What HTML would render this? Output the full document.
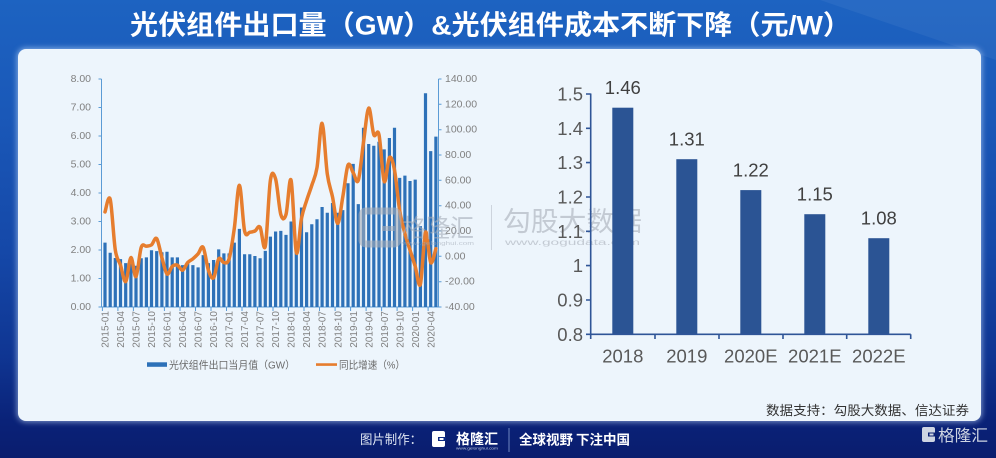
<!DOCTYPE html>
<html><head><meta charset="utf-8"><style>
html,body{margin:0;padding:0;}
body{width:996px;height:458px;overflow:hidden;position:relative;background:linear-gradient(to bottom,#1d63c1 0%,#1a58b8 25%,#1548a8 55%,#0f3592 78%,#0a2278 92%,#0a1d6e 100%);font-family:"Liberation Sans","Noto Sans CJK SC",sans-serif;}
.panel{position:absolute;left:17.5px;top:49px;width:963.5px;height:372px;background:#edf5fc;border-radius:8px;box-shadow:0 0 6px 1px rgba(200,225,255,0.6);}
svg{position:absolute;left:0;top:0;}
</style></head><body>
<div class="panel"></div>
<svg width="996" height="458" viewBox="0 0 996 458" xmlns="http://www.w3.org/2000/svg">
<polygon points="700,0 996,0 996,60 820,0" fill="#ffffff" opacity="0.05"/>
<!-- Title -->
<text x="130" y="34.5" textLength="721" lengthAdjust="spacingAndGlyphs" font-family="'Liberation Sans','Noto Sans CJK SC',sans-serif" font-size="27" font-weight="bold" fill="#ffffff">光伏组件出口量（GW）&amp;光伏组件成本不断下降（元/W）</text>

<!-- Left chart axes -->
<g stroke="#5b9bd5" stroke-width="1" fill="none">
<line x1="101.5" y1="79" x2="101.5" y2="307"/>
<line x1="438.5" y1="79" x2="438.5" y2="307"/>
<line x1="101.5" y1="307" x2="438.5" y2="307"/>
<path d="M98.5,79H101.5M98.5,107.5H101.5M98.5,136H101.5M98.5,164.5H101.5M98.5,193H101.5M98.5,221.5H101.5M98.5,250H101.5M98.5,278.5H101.5M98.5,307H101.5"/>
<path d="M438.5,79H441.5M438.5,104.3H441.5M438.5,129.7H441.5M438.5,155H441.5M438.5,180.3H441.5M438.5,205.7H441.5M438.5,231H441.5M438.5,256.3H441.5M438.5,281.7H441.5M438.5,307H441.5"/>
<path d="M102.4,307V311M117.9,307V311M133.4,307V311M148.9,307V311M164.4,307V311M180,307V311M195.5,307V311M211,307V311M226.5,307V311M242,307V311M257.5,307V311M273,307V311M288.5,307V311M304,307V311M319.5,307V311M335.1,307V311M350.6,307V311M366.1,307V311M381.6,307V311M397.1,307V311M412.6,307V311M428.1,307V311"/>
</g>
<g font-family="'Liberation Sans',sans-serif" font-size="10.5" fill="#808080">
<g text-anchor="end" dominant-baseline="central">
<text x="91" y="79">8.00</text><text x="91" y="107.5">7.00</text><text x="91" y="136">6.00</text><text x="91" y="164.5">5.00</text><text x="91" y="193">4.00</text><text x="91" y="221.5">3.00</text><text x="91" y="250">2.00</text><text x="91" y="278.5">1.00</text><text x="91" y="307">0.00</text>
</g>
<g dominant-baseline="central">
<text x="445" y="79">140.00</text><text x="445" y="104.3">120.00</text><text x="445" y="129.7">100.00</text><text x="445" y="155">80.00</text><text x="445" y="180.3">60.00</text><text x="445" y="205.7">40.00</text><text x="445" y="231">20.00</text><text x="445" y="256.3">0.00</text><text x="445" y="281.7">-20.00</text><text x="445" y="307">-40.00</text>
</g>
</g>
<!-- Bars -->
<path fill="#2d71b8" d="M103.4,307V242.6h3.2V307zM108.6,307V252.8h3.2V307zM113.7,307V258h3.2V307zM118.9,307V259.1h3.2V307zM124.1,307V263.1h3.2V307zM129.3,307V263.7h3.2V307zM134.4,307V265.7h3.2V307zM139.6,307V258.3h3.2V307zM144.8,307V257.4h3.2V307zM149.9,307V250.3h3.2V307zM155.1,307V251.1h3.2V307zM160.3,307V252.3h3.2V307zM165.4,307V251.7h3.2V307zM170.6,307V257.4h3.2V307zM175.8,307V257.4h3.2V307zM181,307V265.1h3.2V307zM186.1,307V262.5h3.2V307zM191.3,307V265.1h3.2V307zM196.5,307V267.4h3.2V307zM201.6,307V255.1h3.2V307zM206.8,307V263.1h3.2V307zM212,307V260h3.2V307zM217.1,307V249.4h3.2V307zM222.3,307V253.4h3.2V307zM227.5,307V253.4h3.2V307zM232.7,307V242.6h3.2V307zM237.8,307V228.9h3.2V307zM243,307V254.3h3.2V307zM248.2,307V254.3h3.2V307zM253.3,307V256h3.2V307zM258.5,307V258.3h3.2V307zM263.7,307V250.9h3.2V307zM268.8,307V236.6h3.2V307zM274,307V231.5h3.2V307zM279.2,307V230.9h3.2V307zM284.4,307V234.9h3.2V307zM289.5,307V221.5h3.2V307zM294.7,307V241.4h3.2V307zM299.9,307V207.5h3.2V307zM305,307V232.3h3.2V307zM310.2,307V224.3h3.2V307zM315.4,307V219.2h3.2V307zM320.5,307V207h3.2V307zM325.7,307V212.7h3.2V307zM330.9,307V203h3.2V307zM336.1,307V212.7h3.2V307zM341.2,307V210.1h3.2V307zM346.4,307V183.3h3.2V307zM351.6,307V163.9h3.2V307zM356.7,307V204.1h3.2V307zM361.9,307V127.7h3.2V307zM367.1,307V144h3.2V307zM372.2,307V145.7h3.2V307zM377.4,307V141.7h3.2V307zM382.6,307V149.4h3.2V307zM387.8,307V138h3.2V307zM392.9,307V127.7h3.2V307zM398.1,307V177.9h3.2V307zM403.3,307V175.6h3.2V307zM408.4,307V181h3.2V307zM413.6,307V179.6h3.2V307zM418.8,307V226.1h3.2V307zM423.9,307V93.2h3.2V307zM429.1,307V151.1h3.2V307zM434.3,307V136.6h3.2V307z"/>
<!-- Line -->
<path id="ln" fill="none" stroke="#e67d2e" stroke-width="3.5" stroke-linejoin="round" stroke-linecap="round" d="M105.0,211.9 L110.2,199.3 L115.3,250.0 L120.5,265.2 L125.7,281.6 L130.9,257.6 L136.0,276.6 L141.2,247.4 L146.4,246.2 L151.5,244.9 L156.7,238.6 L161.9,257.6 L167.0,274.0 L172.2,266.4 L177.4,265.2 L182.6,270.2 L187.7,262.6 L192.9,258.8 L198.1,253.8 L203.2,247.4 L208.4,270.2 L213.6,277.8 L218.7,258.8 L223.9,262.6 L229.1,258.8 L234.3,228.4 L239.4,185.3 L244.6,231.0 L249.8,232.2 L254.9,231.0 L260.1,227.2 L265.3,246.2 L270.4,180.3 L275.6,179.0 L280.8,214.5 L286.0,214.5 L291.1,180.3 L296.3,252.5 L301.5,218.3 L306.6,200.6 L311.8,185.3 L317.0,167.6 L322.1,123.3 L327.3,174.0 L332.5,196.8 L337.7,223.4 L342.8,196.8 L348.0,165.1 L353.2,172.7 L358.3,180.3 L363.5,142.3 L368.7,108.1 L373.8,134.7 L379.0,134.7 L384.2,181.5 L389.4,157.5 L394.5,170.1 L399.7,210.7 L404.9,233.5 L410.0,250.0 L415.2,266.4 L420.4,284.2 L425.5,232.2 L430.7,262.6 L435.9,248.7"/>

<!-- Watermarks (on top) -->
<g opacity="0.6">
<rect x="362" y="211" width="36" height="33" rx="4" fill="none" stroke="#a4acb8" stroke-width="7"/>
<rect x="382" y="226" width="14" height="5" fill="#a4acb8"/>
<text x="402" y="237" textLength="72" lengthAdjust="spacingAndGlyphs" font-family="'Noto Sans CJK SC',sans-serif" font-size="25" fill="#a4acb8">格隆汇</text>
<text x="402" y="245" textLength="72" lengthAdjust="spacingAndGlyphs" font-family="'Liberation Sans',sans-serif" font-size="5" fill="#a4acb8">www.gelonghui.com</text>
</g>
<g opacity="0.55">
<line x1="491.5" y1="205" x2="491.5" y2="250" stroke="#b4bac4" stroke-width="1"/>
<text x="503" y="231" textLength="139" lengthAdjust="spacingAndGlyphs" font-family="'Noto Sans CJK SC',sans-serif" font-size="27" fill="#a2a8b2">勾股大数据</text>
<text x="505" y="245" textLength="135" lengthAdjust="spacingAndGlyphs" font-family="'Liberation Sans',sans-serif" font-size="8" fill="#a2a8b2">www.gogudata.com</text>
</g>

<!-- X labels left -->
<g font-family="'Liberation Sans',sans-serif" font-size="10" fill="#808080" text-anchor="end">
<text transform="translate(108.6,311) rotate(-90)">2015-01</text>
<text transform="translate(124.1,311) rotate(-90)">2015-04</text>
<text transform="translate(139.6,311) rotate(-90)">2015-07</text>
<text transform="translate(155.1,311) rotate(-90)">2015-10</text>
<text transform="translate(170.6,311) rotate(-90)">2016-01</text>
<text transform="translate(186.2,311) rotate(-90)">2016-04</text>
<text transform="translate(201.7,311) rotate(-90)">2016-07</text>
<text transform="translate(217.2,311) rotate(-90)">2016-10</text>
<text transform="translate(232.7,311) rotate(-90)">2017-01</text>
<text transform="translate(248.2,311) rotate(-90)">2017-04</text>
<text transform="translate(263.7,311) rotate(-90)">2017-07</text>
<text transform="translate(279.2,311) rotate(-90)">2017-10</text>
<text transform="translate(294.7,311) rotate(-90)">2018-01</text>
<text transform="translate(310.2,311) rotate(-90)">2018-04</text>
<text transform="translate(325.7,311) rotate(-90)">2018-07</text>
<text transform="translate(341.3,311) rotate(-90)">2018-10</text>
<text transform="translate(356.8,311) rotate(-90)">2019-01</text>
<text transform="translate(372.3,311) rotate(-90)">2019-04</text>
<text transform="translate(387.8,311) rotate(-90)">2019-07</text>
<text transform="translate(403.3,311) rotate(-90)">2019-10</text>
<text transform="translate(418.8,311) rotate(-90)">2020-01</text>
<text transform="translate(434.3,311) rotate(-90)">2020-04</text>
</g>
<!-- Legend -->
<rect x="147" y="362.3" width="20" height="4.5" fill="#2d71b8"/>
<text x="169" y="368.3" textLength="126" lengthAdjust="spacingAndGlyphs" font-family="'Liberation Sans','Noto Sans CJK SC',sans-serif" font-size="10.5" fill="#6a6a6a">光伏组件出口当月值（GW）</text>
<line x1="316" y1="364.6" x2="337" y2="364.6" stroke="#e67d2e" stroke-width="2.6"/>
<text x="339" y="368.3" textLength="66" lengthAdjust="spacingAndGlyphs" font-family="'Liberation Sans','Noto Sans CJK SC',sans-serif" font-size="10.5" fill="#6a6a6a">同比增速（%）</text>

<!-- Right chart -->
<g fill="#2b5494">
<rect x="612.3" y="107.7" width="21" height="226.6"/>
<rect x="676.3" y="159.2" width="21" height="175.1"/>
<rect x="740.3" y="190.1" width="21" height="144.2"/>
<rect x="804.3" y="214.2" width="21" height="120.1"/>
<rect x="868.3" y="238.2" width="21" height="96.1"/>
</g>
<g stroke="#2f5597" stroke-width="1.6" fill="none">
<line x1="590.7" y1="93.5" x2="590.7" y2="334.3"/>
<line x1="590.7" y1="334.3" x2="910.7" y2="334.3"/>
<path d="M586,94H590.7M586,128.3H590.7M586,162.6H590.7M586,197H590.7M586,231.3H590.7M586,265.6H590.7M586,300H590.7M586,334.3H590.7"/>
<path d="M590.7,334.3V339M655,334.3V339M719,334.3V339M783,334.3V339M846.7,334.3V339M910.7,334.3V339"/>
</g>
<g font-family="'Liberation Sans',sans-serif" font-size="18.5" fill="#595959" text-anchor="end" dominant-baseline="central">
<text x="583" y="94">1.5</text><text x="583" y="128.3">1.4</text><text x="583" y="162.6">1.3</text><text x="583" y="197">1.2</text><text x="583" y="231.3">1.1</text><text x="583" y="265.6">1</text><text x="583" y="300">0.9</text><text x="583" y="334.3">0.8</text>
</g>
<g font-family="'Liberation Sans',sans-serif" font-size="18.5" fill="#404040" text-anchor="middle">
<text x="622.8" y="94.2">1.46</text>
<text x="686.8" y="145.7">1.31</text>
<text x="750.8" y="176.6">1.22</text>
<text x="814.8" y="200.7">1.15</text>
<text x="878.8" y="224.7">1.08</text>
</g>
<g font-family="'Liberation Sans',sans-serif" font-size="18.5" fill="#595959" text-anchor="middle">
<text x="622.8" y="362.5">2018</text>
<text x="686.8" y="362.5">2019</text>
<text x="750.8" y="362.5">2020E</text>
<text x="814.8" y="362.5">2021E</text>
<text x="878.8" y="362.5">2022E</text>
</g>
<!-- Source -->
<text x="766" y="415" textLength="203" lengthAdjust="spacingAndGlyphs" font-family="'Liberation Sans','Noto Sans CJK SC',sans-serif" font-size="13" fill="#333333">数据支持：勾股大数据、信达证券</text>

<!-- Footer -->
<text x="360" y="444" textLength="62" lengthAdjust="spacingAndGlyphs" font-family="'Liberation Sans','Noto Sans CJK SC',sans-serif" font-size="13" fill="#dfe6f3">图片制作：</text>
<rect x="432" y="431" width="13" height="16" rx="2" fill="#ffffff"/>
<rect x="438" y="437" width="8" height="4" fill="#0d2a82"/>
<rect x="439.5" y="438" width="4" height="2" fill="#ffffff"/>
<text x="456" y="444" textLength="42" lengthAdjust="spacingAndGlyphs" font-family="'Noto Sans CJK SC',sans-serif" font-size="14" font-weight="bold" fill="#ffffff">格隆汇</text>
<text x="456" y="449.5" textLength="42" lengthAdjust="spacingAndGlyphs" font-family="'Liberation Sans',sans-serif" font-size="3.5" fill="#c0cbe0">www.gelonghui.com</text>
<line x1="509" y1="428" x2="509" y2="452" stroke="#6f86c0" stroke-width="1"/>
<text x="519" y="444.5" textLength="111" lengthAdjust="spacingAndGlyphs" font-family="'Noto Sans CJK SC',sans-serif" font-size="13.5" font-weight="bold" fill="#ffffff">全球视野 下注中国</text>
<rect x="922" y="427" width="13" height="15" rx="2" fill="#cdd4e2"/>
<rect x="928" y="432.5" width="8" height="4" fill="#0a1f72"/>
<rect x="929.5" y="433.5" width="4" height="2" fill="#cdd4e2"/>
<text x="938" y="441" textLength="50" lengthAdjust="spacingAndGlyphs" font-family="'Noto Sans CJK SC',sans-serif" font-size="16" fill="#cdd4e2">格隆汇</text>
</svg>
<script>
(function(){
var p=document.getElementById('ln');
var d=p.getAttribute('d').replace(/[ML]/g,' ').trim().split(/\s+/).map(function(s){var a=s.split(',');return [parseFloat(a[0]),parseFloat(a[1])];});
var n=d.length,o='M'+d[0][0]+','+d[0][1];
for(var i=0;i<n-1;i++){
var p0=d[i>0?i-1:i],p1=d[i],p2=d[i+1],p3=d[i+2<n?i+2:i+1];
var c1x=p1[0]+(p2[0]-p0[0])/6,c1y=p1[1]+(p2[1]-p0[1])/6;
var c2x=p2[0]-(p3[0]-p1[0])/6,c2y=p2[1]-(p3[1]-p1[1])/6;
o+=' C'+c1x.toFixed(2)+','+c1y.toFixed(2)+' '+c2x.toFixed(2)+','+c2y.toFixed(2)+' '+p2[0]+','+p2[1];
}
p.setAttribute('d',o);
})();
</script>
</body></html>
